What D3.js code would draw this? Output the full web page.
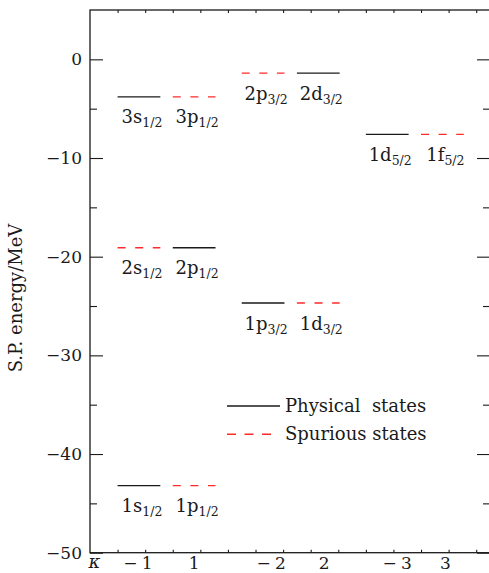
<!DOCTYPE html>
<html>
<head>
<meta charset="utf-8">
<script src="https://cdn.jsdelivr.net/npm/d3@7"></script>
<style>
  body { margin: 0; background: #fff; }
  text { font-family: "DejaVu Serif", serif; fill: #1a1a1a; }
</style>
</head>
<body>
<div id="chart"></div>
<script>
// kappa quantum numbers along x
var kappas = ['\u22121', '1', '\u22122', '2', '\u22123', '3'];

// single particle levels
var levelKappa  = [0, 0, 0, 1, 1, 1, 2, 2, 3, 3, 4, 5];
var levelEnergy = [-3.8, -19.1, -43.2, -3.8, -19.1, -43.2, -1.4, -24.7, -1.4, -24.7, -7.6, -7.6];
var levelKind   = ['phys', 'spur', 'phys', 'spur', 'phys', 'spur', 'spur', 'phys', 'phys', 'spur', 'phys', 'spur'];
var levelName   = ['3s', '2s', '1s', '3p', '2p', '1p', '2p', '1p', '2d', '1d', '1d', '1f'];
var levelJ      = ['1/2', '1/2', '1/2', '1/2', '1/2', '1/2', '3/2', '3/2', '3/2', '3/2', '5/2', '5/2'];

var yMajor = [-50, -40, -30, -20, -10, 0];
var yMinor = [-45, -35, -25, -15, -5];

var legendItems = [
  {kind: 'phys', label: 'Physical\u00a0\u00a0states'},
  {kind: 'spur', label: 'Spurious states'}
];

var width = 489, height = 573;
var margin = {left: 90, top: 10, right: -1, bottom: 20.3};

var svg = d3.select('#chart')
  .append('svg')
  .attr('width', width)
  .attr('height', height);

var x = d3.scaleLinear()
  .domain([0, 14.5])
  .range([margin.left, width - margin.right]);

var y = d3.scaleLinear()
  .domain([-50, 5])
  .range([height - margin.bottom, margin.top]);

var lineW = 1.55;
function kappaCenter(i) {
  return 1.775 + 2 * (i % 2) + 4.5 * Math.floor(i / 2);
}
// nudges of the kappa labels, px
var kappaDx = [-1, 0, 8, 6, 10, 3];

var ink = '#1a1a1a';

// frame
svg.append('rect')
  .attr('x', x(0))
  .attr('y', y(5))
  .attr('width', x(14.5) - x(0))
  .attr('height', y(-50) - y(5))
  .attr('fill', 'none')
  .attr('stroke', ink)
  .attr('stroke-width', 1.3);

function styleAxis(g) {
  g.select('.domain').remove();
  g.selectAll('.tick line').attr('stroke', ink).attr('stroke-width', 1.1);
  g.selectAll('.tick text')
    .style('font-family', '"DejaVu Serif", serif')
    .style('font-size', '17px')
    .attr('fill', ink);
}

// left axis, major ticks with labels
svg.append('g')
  .attr('transform', 'translate(' + x(0) + ',0)')
  .call(d3.axisLeft(y).tickValues(yMajor).tickSize(-13).tickPadding(8))
  .call(styleAxis);

svg.append('g')
  .attr('transform', 'translate(' + x(0) + ',0)')
  .call(d3.axisLeft(y).tickValues(yMinor).tickSize(-7).tickFormat(''))
  .call(styleAxis);

// right axis, ticks only
svg.append('g')
  .attr('transform', 'translate(' + x(14.5) + ',0)')
  .call(d3.axisRight(y).tickValues(yMajor).tickSize(-13).tickFormat(''))
  .call(styleAxis);

svg.append('g')
  .attr('transform', 'translate(' + x(14.5) + ',0)')
  .call(d3.axisRight(y).tickValues(yMinor).tickSize(-7).tickFormat(''))
  .call(styleAxis);

// top and bottom small ticks
var xTicks = d3.range(1, 15);
svg.append('g')
  .attr('transform', 'translate(0,' + y(5) + ')')
  .call(d3.axisTop(x).tickValues(xTicks).tickSize(-3).tickFormat(''))
  .call(styleAxis);

svg.append('g')
  .attr('transform', 'translate(0,' + y(-50) + ')')
  .call(d3.axisBottom(x).tickValues(xTicks).tickSize(-3).tickFormat(''))
  .call(styleAxis);

// kappa labels
svg.append('text')
  .attr('x', 94.5)
  .attr('y', 568)
  .attr('text-anchor', 'middle')
  .style('font-size', '18px')
  .style('font-style', 'italic')
  .text('\u03ba');

svg.selectAll('.kappa_label')
  .data(kappas)
  .enter()
  .append('text')
  .attr('class', 'kappa_label')
  .attr('x', function(d, i) { return x(kappaCenter(i)) + kappaDx[i]; })
  .attr('y', 569)
  .attr('text-anchor', 'middle')
  .style('font-size', '17px')
  .text(function(d) { return d.replace('\u2212', '\u2212\u2005'); });

// y title
svg.append('text')
  .attr('transform', 'translate(22,' + 298 + ') rotate(-90)')
  .attr('text-anchor', 'middle')
  .style('font-size', '18px')
  .text('S.P. energy/MeV');

function strokeOf(kind) { return kind === 'phys' ? ink : '#ff2a2a'; }
function dashOf(kind) { return kind === 'phys' ? null : '8,9.6'; }

// levels
var levels = levelKappa.map(function(k, i) {
  return {k: k, e: levelEnergy[i], kind: levelKind[i], name: levelName[i], j: levelJ[i]};
});

var lv = svg.selectAll('.level')
  .data(levels)
  .enter()
  .append('g')
  .attr('class', 'level');

lv.append('line')
  .attr('x1', function(d) { return x(kappaCenter(d.k) - lineW / 2); })
  .attr('x2', function(d) { return x(kappaCenter(d.k) + lineW / 2); })
  .attr('y1', function(d) { return y(d.e); })
  .attr('y2', function(d) { return y(d.e); })
  .attr('stroke', function(d) { return strokeOf(d.kind); })
  .attr('stroke-width', 1.4)
  .attr('stroke-dasharray', function(d) { return dashOf(d.kind); });

var lbl = lv.append('text')
  .attr('x', function(d) { return x(kappaCenter(d.k)) + 3; })
  .attr('y', function(d) { return y(d.e) + 26.5; })
  .attr('text-anchor', 'middle')
  .style('font-size', '18px');

lbl.append('tspan')
  .text(function(d) { return d.name; });

lbl.append('tspan')
  .attr('dy', 4)
  .style('font-size', '12.5px')
  .text(function(d) { return d.j; });

// legend
var legend = svg.append('g')
  .attr('transform', 'translate(227,406)');

var li = legend.selectAll('.legend_item')
  .data(legendItems)
  .enter()
  .append('g')
  .attr('class', 'legend_item')
  .attr('transform', function(d, i) { return 'translate(0,' + (i * 28.3) + ')'; });

li.append('line')
  .attr('x1', 0)
  .attr('x2', function(d) { return d.kind === 'phys' ? 53 : 44; })
  .attr('stroke', function(d) { return strokeOf(d.kind); })
  .attr('stroke-width', 1.4)
  .attr('stroke-dasharray', function(d) { return d.kind === 'phys' ? null : '9,8.5'; });

li.append('text')
  .attr('x', 58)
  .attr('y', 5.5)
  .style('font-size', '18px')
  .text(function(d) { return d.label; });
</script>
</body>
</html>
